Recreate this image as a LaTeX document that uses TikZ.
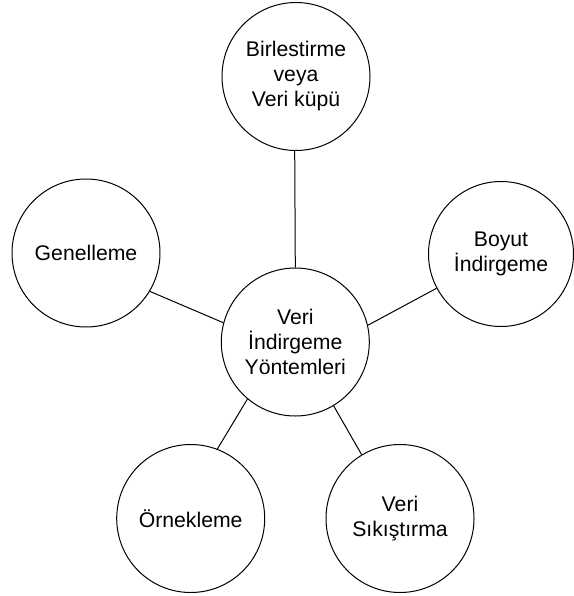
\documentclass[tikz,border=0pt]{standalone}
\usepackage{fontspec}
\setmainfont{Liberation Sans}
\begin{document}
\begin{tikzpicture}[x=1pt,y=-1pt,
  bubble/.style={circle,draw=black,line width=1pt,inner sep=0pt,minimum size=148pt,
    align=center,font=\fontsize{21.2}{25}\selectfont},
  link/.style={draw=black,line width=1pt}]
\useasboundingbox (0,0) rectangle (573,596);
\node[bubble] (c) at (295.3,342) {Veri\\İndirgeme\\Yöntemleri};
\node[bubble] (top) at (296,76.5) {Birlestirme\\veya\\Veri küpü};
\node[bubble] (gen) at (86,253) {Genelleme};
\node[bubble,minimum size=145pt] (boy) at (501,254) {Boyut\\İndirgeme};
\node[bubble] (orn) at (190.7,518.5) {Örnekleme};
\node[bubble] (sik) at (400,518.5) {Veri\\Sıkıştırma};
\path[link] (top.-91) -- (c.90);
\path[link] (gen.-31.5) -- (c.165.6);
\path[link] (boy.208) -- (c.13.5);
\path[link] (orn.69) -- (c.230);
\path[link] (sik.121) -- (c.-59);
\end{tikzpicture}
\end{document}
